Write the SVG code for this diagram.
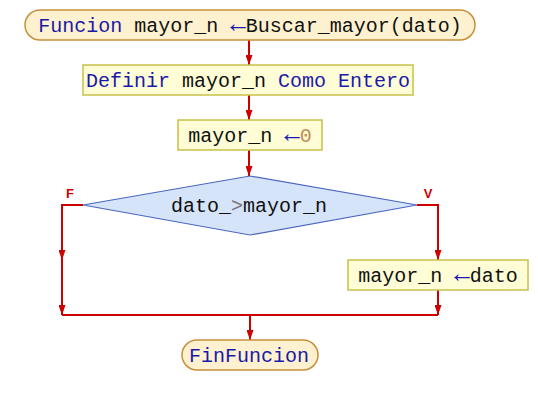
<svg xmlns="http://www.w3.org/2000/svg" width="538" height="405" viewBox="0 0 538 405">
<defs>
<marker id="a" markerUnits="userSpaceOnUse" markerWidth="10" markerHeight="7" refX="10" refY="3.5" orient="auto" viewBox="0 0 10 7">
<polygon points="0,0 10,3.5 0,7" fill="#cc0000"/>
</marker>
</defs>
<style>
text{font-family:"Liberation Mono","DejaVu Sans Mono",monospace;font-size:20px;fill:#111;text-anchor:middle}
.kw{fill:#1a1aaa}
.op{fill:#1a1aaa;font-size:26px}
.num{fill:#c08a50}
.gt{fill:#777}
.term{fill:#fef1cf;stroke:#c8903c;stroke-width:1.5}
.proc{fill:#fffdd6;stroke:#c8c048;stroke-width:1.5}
.dec{fill:#d6e4fa;stroke:#4a66c0;stroke-width:1.2}
.c{fill:none;stroke:#cc0000;stroke-width:2}
.lbl{font-family:"Liberation Sans","DejaVu Sans",sans-serif;font-size:13px;font-weight:bold;fill:#cc0000}
</style>
<g id="connectors">
<line class="c" x1="249" y1="40" x2="249" y2="65" marker-end="url(#a)"/>
<line class="c" x1="249" y1="95" x2="249" y2="120" marker-end="url(#a)"/>
<line class="c" x1="249" y1="150" x2="249" y2="176" marker-end="url(#a)"/>
<polyline class="c" points="83,205 62,205 62,260" marker-end="url(#a)"/>
<line class="c" x1="62" y1="260" x2="62" y2="315" marker-end="url(#a)"/>
<polyline class="c" points="417,205 438,205 438,260" marker-end="url(#a)"/>
<line class="c" x1="438" y1="290" x2="438" y2="315" marker-end="url(#a)"/>
<line class="c" x1="62" y1="315" x2="438" y2="315"/>
<line class="c" x1="250" y1="315" x2="250" y2="340" marker-end="url(#a)"/>
<text class="lbl" x="70" y="198">F</text>
<text class="lbl" x="428" y="198">V</text>
</g>
<g id="inicio">
<rect class="term" x="25" y="10" width="450" height="30" rx="15"/>
<text x="250" y="32"><tspan class="kw">Funcion</tspan> mayor_n <tspan class="op">←</tspan>Buscar_mayor(dato)</text>
</g>
<g id="definir">
<rect class="proc" x="83" y="65" width="330" height="30"/>
<text x="248" y="87"><tspan class="kw">Definir</tspan> mayor_n <tspan class="kw">Como Entero</tspan></text>
</g>
<g id="asig0">
<rect class="proc" x="178" y="120" width="144" height="30"/>
<text x="250" y="142">mayor_n <tspan class="op">←</tspan><tspan class="num">0</tspan></text>
</g>
<g id="decision">
<polygon class="dec" points="250,176 417,205 250,235 83,205"/>
<text x="249" y="212">dato_<tspan class="gt">&gt;</tspan>mayor_n</text>
</g>
<g id="asigdato">
<rect class="proc" x="348" y="260" width="180" height="30"/>
<text x="438" y="282">mayor_n <tspan class="op">←</tspan>dato</text>
</g>
<g id="fin">
<rect class="term" x="182" y="340" width="136" height="30" rx="15"/>
<text x="249" y="362" class="kw">FinFuncion</text>
</g>
</svg>
